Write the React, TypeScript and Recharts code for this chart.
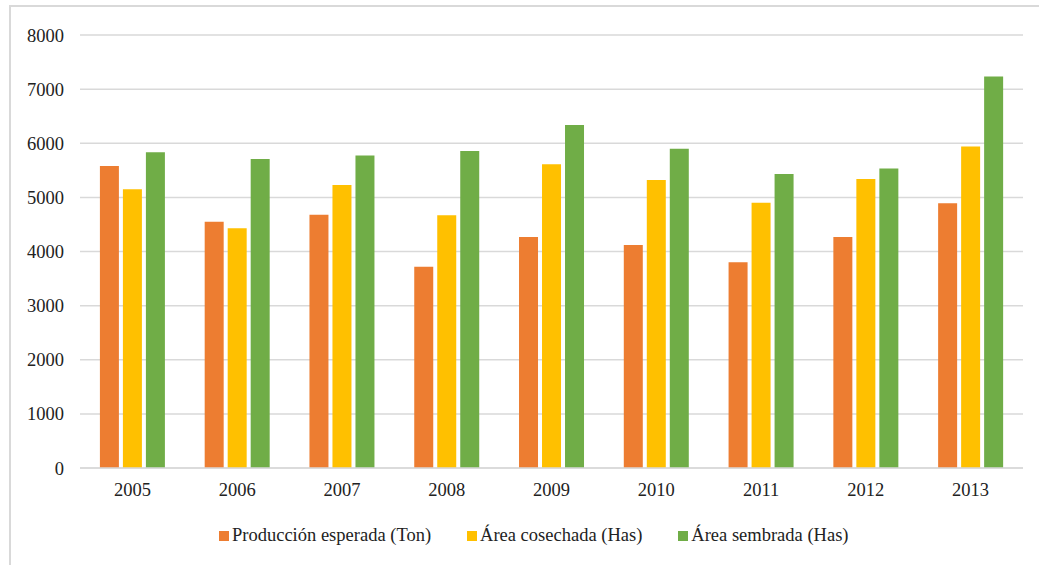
import { BarChart, Bar, XAxis, YAxis, CartesianGrid, Legend } from 'recharts';

const YEARS = ['2005', '2006', '2007', '2008', '2009', '2010', '2011', '2012', '2013'];
const PRODUCCION = [5580, 4550, 4680, 3720, 4270, 4120, 3800, 4270, 4890];
const AREA_COSECHADA = [5150, 4430, 5230, 4670, 5610, 5320, 4900, 5340, 5940];
const AREA_SEMBRADA = [5835, 5710, 5775, 5855, 6335, 5900, 5430, 5535, 7235];
const Y_TICKS = [0, 1000, 2000, 3000, 4000, 5000, 6000, 7000, 8000];

const SERIES = [
  { key: 'produccion', name: 'Producción esperada (Ton)', color: '#ED7D31' },
  { key: 'cosechada', name: 'Área cosechada (Has)', color: '#FFC000' },
  { key: 'sembrada', name: 'Área sembrada (Has)', color: '#70AD47' },
];

const data = YEARS.map((year, i) => ({
  year,
  produccion: PRODUCCION[i],
  cosechada: AREA_COSECHADA[i],
  sembrada: AREA_SEMBRADA[i],
}));

const FONT = '"Liberation Serif", "Times New Roman", serif';
const FONT_SIZE = 18.5;

// custom legend so the spacing matches the original (small squares, wide gaps)
function LegendContent({ payload }: any) {
  return (
    <div style={{ display: 'flex', alignItems: 'center', fontFamily: FONT, fontSize: FONT_SIZE, color: '#222' }}>
      {(payload || []).map((p: any, i: number) => (
        <div key={i} style={{ display: 'flex', alignItems: 'center', marginRight: 36 }}>
          <span style={{ width: 10, height: 10, background: p.color, marginRight: 3, display: 'inline-block' }} />
          <span>{p.value}</span>
        </div>
      ))}
    </div>
  );
}

export default function App() {
  return (
    <div style={{ position: 'absolute', left: 0, top: 0, width: 1039, height: 565, background: '#fff' }}>
      <div
        style={{
          position: 'absolute',
          left: 9,
          top: 5,
          width: 1040,
          height: 580,
          border: '2px solid #d9d9d9',
          boxSizing: 'border-box',
        }}
      />
      <div style={{ position: 'absolute', left: 0, top: 0 }}>
        <BarChart
          width={1039}
          height={565}
          data={data}
          margin={{ top: 35, right: 16, left: 0, bottom: 67 }}
          barCategoryGap="19%"
          barGap={4}
        >
          <CartesianGrid vertical={false} stroke="#d9d9d9" strokeWidth={1.5} />
          <XAxis
            dataKey="year"
            tickLine={false}
            axisLine={{ stroke: '#d9d9d9', strokeWidth: 1.5 }}
            tick={{ fill: '#222', fontSize: FONT_SIZE, fontFamily: FONT }}
            tickMargin={9}
          />
          <YAxis
            width={80}
            domain={[0, 8000]}
            ticks={Y_TICKS}
            tickLine={false}
            axisLine={false}
            tick={{ fill: '#222', fontSize: FONT_SIZE, fontFamily: FONT }}
            tickMargin={10}
          />
          <Legend
            layout="horizontal"
            verticalAlign="middle"
            align="center"
            content={<LegendContent />}
            wrapperStyle={{ top: 525, left: 219, width: 800 }}
          />
          {SERIES.map((s) => (
            <Bar key={s.key} dataKey={s.key} name={s.name} fill={s.color} isAnimationActive={false} />
          ))}
        </BarChart>
      </div>
    </div>
  );
}
